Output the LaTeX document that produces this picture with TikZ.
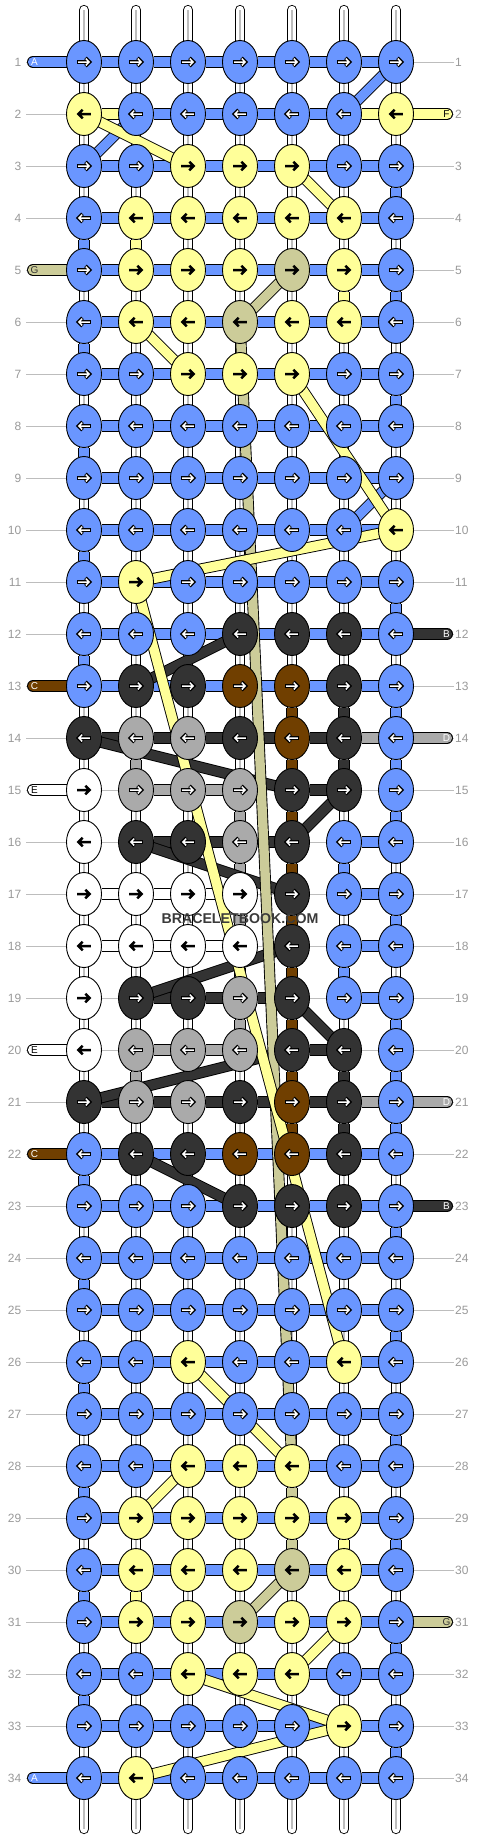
\documentclass[tikz,border=0pt]{standalone}
\usepackage{fontspec}
\setmainfont{Liberation Sans}
\usetikzlibrary{shapes.geometric}
\pgfdeclarelayer{bg}
\pgfsetlayers{bg,main}
\definecolor{cB}{HTML}{6A96FF}
\definecolor{cY}{HTML}{FFFF99}
\definecolor{cK}{HTML}{CCCC99}
\definecolor{cD}{HTML}{333333}
\definecolor{cN}{HTML}{703F00}
\definecolor{cG}{HTML}{AAAAAA}
\definecolor{cW}{HTML}{FFFFFF}
\definecolor{numgray}{HTML}{999999}
\definecolor{linegray}{HTML}{BDBDBD}
\definecolor{wmgray}{HTML}{3A3A3A}
\tikzset{
  knot/.style={ellipse, draw=black, line width=0.9pt, minimum width=35pt, minimum height=43pt, inner sep=0pt, outer sep=0pt},
  strand/.style={draw=black, line width=0.9pt, double=#1, double distance=9.4pt},
  hseg/.style={draw=black, line width=0.9pt, double=#1, double distance=10.2pt},
  endstr/.style={draw=black, line width=0.9pt, double=#1, double distance=10.2pt, line cap=round},
  tube/.style={draw=black, line width=0.9pt, double=white, double distance=8.4pt, line cap=round},
  tubeline/.style={draw=linegray, line width=1.2pt},
  rowline/.style={draw=linegray, line width=0.8pt},
  numl/.style={anchor=east, text=numgray, font=\fontsize{12}{12}\selectfont, inner sep=0pt},
  numr/.style={anchor=west, text=numgray, font=\fontsize{12}{12}\selectfont, inner sep=0pt},
  lbl/.style={font=\fontsize{10}{10}\selectfont, inner sep=0pt},
  wm/.style={font=\bfseries\fontsize{14.2}{15}\selectfont, text=wmgray, inner sep=0pt},
}
\newcommand{\warrow}[3]{%
  \begin{scope}[shift={({#1},{#2})}, xscale=#3]
    \draw[black, line width=3.6pt, line join=miter] (-6.9,0)--(5.6,0) (1.5,-4.1)--(5.6,0)--(1.5,4.1);
    \draw[white, line width=1.5pt, line join=miter] (-5.8,0)--(5.1,0) (1.8,-3.4)--(5.1,0)--(1.8,3.4);
  \end{scope}}
\newcommand{\barrow}[3]{%
  \begin{scope}[shift={({#1},{#2})}, xscale=#3]
    \draw[black, line width=2.5pt, line join=miter] (-6.8,0)--(5.6,0) (1.3,-4.3)--(5.6,0)--(1.3,4.3);
  \end{scope}}
\let\arrB\warrow \let\arrD\warrow \let\arrN\warrow \let\arrG\warrow
\let\arrY\barrow \let\arrK\barrow \let\arrW\barrow
\begin{document}
\begin{tikzpicture}[x=1pt,y=-1pt]
\useasboundingbox (0,0) rectangle (480,1840);
% ---------- knots ----------
\foreach \r/\ka/\kb/\kcc/\kd/\ke/\kf/\kg in {
 1/B/B/B/B/B/B/B, 2/Y/B/B/B/B/B/Y, 3/B/B/Y/Y/Y/B/B, 4/B/Y/Y/Y/Y/Y/B,
 5/B/Y/Y/Y/K/Y/B, 6/B/Y/Y/K/Y/Y/B, 7/B/B/Y/Y/Y/B/B, 8/B/B/B/B/B/B/B,
 9/B/B/B/B/B/B/B, 10/B/B/B/B/B/B/Y, 11/B/Y/B/B/B/B/B, 12/B/B/B/D/D/D/B,
 13/B/D/D/N/N/D/B, 14/D/G/G/D/N/D/B, 15/W/G/G/G/D/D/B, 16/W/D/D/G/D/B/B,
 17/W/W/W/W/D/B/B, 18/W/W/W/W/D/B/B, 19/W/D/D/G/D/B/B, 20/W/G/G/G/D/D/B,
 21/D/G/G/D/N/D/B, 22/B/D/D/N/N/D/B, 23/B/B/B/D/D/D/B, 24/B/B/B/B/B/B/B,
 25/B/B/B/B/B/B/B, 26/B/B/Y/B/B/Y/B, 27/B/B/B/B/B/B/B, 28/B/B/Y/Y/Y/B/B,
 29/B/Y/Y/Y/Y/Y/B, 30/B/Y/Y/Y/K/Y/B, 31/B/Y/Y/K/Y/Y/B, 32/B/B/Y/Y/Y/B/B,
 33/B/B/B/B/B/Y/B, 34/B/Y/B/B/B/B/B}{
  \pgfmathsetmacro\yy{10+52*\r}
  \pgfmathsetmacro\sx{ifthenelse(mod(\r,2)==1,1,-1)}
  \foreach \cc/\col in {1/\ka,2/\kb,3/\kcc,4/\kd,5/\ke,6/\kf,7/\kg}{
    \edef\fc{c\col}
    \pgfmathsetmacro\xx{32+52*\cc}
    \node[knot, fill=\fc] (k-\r-\cc) at (\xx,\yy) {};
    \csname arr\col\endcsname{\xx}{\yy}{\sx}
  }
  \node[numl] (nl-\r) at (21.5,\yy) {\r};
  \node[numr] (nr-\r) at (455,\yy) {\r};
}
% ---------- background ----------
\begin{pgfonlayer}{bg}
  \foreach \r in {1,...,34}{
    \pgfmathsetmacro\yy{10+52*\r}
    \coordinate (rl-\r) at (26,\yy);
    \coordinate (rr-\r) at (454,\yy);
    \draw[rowline] (rl-\r) -- (rr-\r);
  }
  \foreach \cc in {1,...,7}{
    \pgfmathsetmacro\xx{32+52*\cc}
    \coordinate (tt-\cc) at (\xx,10);
    \coordinate (tb-\cc) at (\xx,1829);
    \draw[tube] (tt-\cc) -- (tb-\cc);
    \draw[tubeline] (tt-\cc) -- (tb-\cc);
  }
  % vertical gaps
  \foreach \r/\cc/\col in {3/7/B, 4/1/B, 4/2/Y, 5/7/B, 5/6/Y, 6/1/B, 7/7/B, 8/1/B,
   10/1/B, 11/7/B, 12/1/B, 13/5/N, 13/6/D, 13/7/B, 14/2/G, 14/5/N, 14/6/D, 14/7/B,
   15/4/G, 15/5/N, 15/7/B, 16/4/G, 16/5/N, 16/6/B, 17/4/G, 17/5/N, 17/7/B,
   18/4/G, 18/5/N, 18/6/B, 19/4/G, 19/5/N, 19/7/B, 20/2/G, 20/5/N, 20/6/D, 20/7/B,
   21/5/N, 21/6/D, 21/7/B, 22/1/B, 23/7/B, 24/1/B, 25/7/B, 26/1/B, 27/7/B,
   28/1/B, 28/5/K, 29/5/K, 29/6/Y, 29/7/B, 30/1/B, 30/2/Y, 31/7/B, 32/1/B, 33/7/B}{
    \pgfmathtruncatemacro\rn{\r+1}
    \edef\fc{c\col}
    \draw[strand=\fc] (k-\r-\cc) -- (k-\rn-\cc);
  }
  % horizontal segments
  \foreach \r/\sa/\sb/\sc/\sd/\se/\sf in {
   1/B/B/B/B/B/B, 2/Y/B/B/B/B/Y, 3/B/B/B/B/B/B, 4/B/B/B/B/B/B, 5/B/B/B/B/B/B,
   6/B/B/B/B/B/B, 7/B/B/B/B/B/B, 8/B/B/B/B/B/B, 9/B/B/B/B/B/B, 10/B/B/B/B/B/B,
   11/B/B/B/B/B/B, 12/B/B/B/B/B/B, 13/B/B/B/B/B/B, 14/D/D/D/D/D/G,
   15/0/G/G/0/D/0, 16/0/D/D/D/0/B, 17/W/W/W/0/0/B, 18/W/W/W/0/0/B,
   19/0/D/D/D/0/B, 20/0/G/G/0/D/0, 21/D/D/D/D/D/G, 22/B/B/B/B/B/B,
   23/B/B/B/B/B/B, 24/B/B/B/B/B/B, 25/B/B/B/B/B/B, 26/B/B/B/B/B/B,
   27/B/B/B/B/B/B, 28/B/B/B/B/B/B, 29/B/B/B/B/B/B, 30/B/B/B/B/B/B,
   31/B/B/B/B/B/B, 32/B/B/B/B/B/B, 33/B/B/B/B/B/B, 34/B/B/B/B/B/B}{
    \foreach \cc/\col in {1/\sa,2/\sb,3/\sc,4/\sd,5/\se,6/\sf}{
      \if\col0\else
        \pgfmathtruncatemacro\cn{\cc+1}
        \edef\fc{c\col}
        \draw[hseg=\fc] (k-\r-\cc) -- (k-\r-\cn);
      \fi
    }
  }
  % strings entering from the left
  \foreach \r/\col in {1/B, 5/K, 13/N, 15/W, 20/W, 22/N, 34/B}{
    \pgfmathsetmacro\yy{10+52*\r}
    \edef\fc{c\col}
    \coordinate (ls-\r) at (33,\yy);
    \draw[endstr=\fc] (ls-\r) -- (k-\r-1);
  }
  % strings entering from the right
  \foreach \r/\col in {2/Y, 12/D, 14/G, 21/G, 23/D, 31/K}{
    \pgfmathsetmacro\yy{10+52*\r}
    \edef\fc{c\col}
    \coordinate (rs-\r) at (447,\yy);
    \draw[endstr=\fc] (rs-\r) -- (k-\r-7);
  }
  % diagonal strands
  \foreach \ra/\ca/\rb/\cb/\col in {1/7/2/6/B, 2/2/3/1/B, 9/7/10/6/B,
   12/4/13/2/D, 14/1/15/5/D, 15/6/16/5/D, 16/2/17/5/D, 18/5/19/2/D,
   19/5/20/6/D, 20/5/21/1/D, 22/2/23/4/D,
   5/5/6/4/K, 6/4/28/5/K, 30/5/31/4/K,
   2/1/3/3/Y, 3/5/4/6/Y, 6/2/7/3/Y, 7/5/10/7/Y, 10/7/11/2/Y, 11/2/26/6/Y,
   26/3/28/5/Y, 28/3/29/2/Y, 31/6/32/5/Y, 32/3/33/6/Y, 33/6/34/2/Y}{
    \edef\fc{c\col}
    \draw[strand=\fc] (k-\ra-\ca.center) -- (k-\rb-\cb.center);
  }
\end{pgfonlayer}
% ---------- string letters ----------
\foreach \r/\t/\tc in {1/A/white, 5/G/cD, 13/C/white, 15/E/black, 20/E/black, 22/C/white, 34/A/white}{
  \pgfmathsetmacro\yy{10+52*\r}
  \node[lbl, text=\tc] (ll-\r) at (34.5,\yy) {\t};
}
\foreach \r/\t/\tc in {2/F/black, 12/B/white, 14/D/white, 21/D/white, 23/B/white, 31/G/cD}{
  \pgfmathsetmacro\yy{10+52*\r}
  \node[lbl, text=\tc] (lr-\r) at (446.5,\yy) {\t};
}
\node[wm] (wm) at (240,919) {BRACELETBOOK.COM};
\end{tikzpicture}
\end{document}
